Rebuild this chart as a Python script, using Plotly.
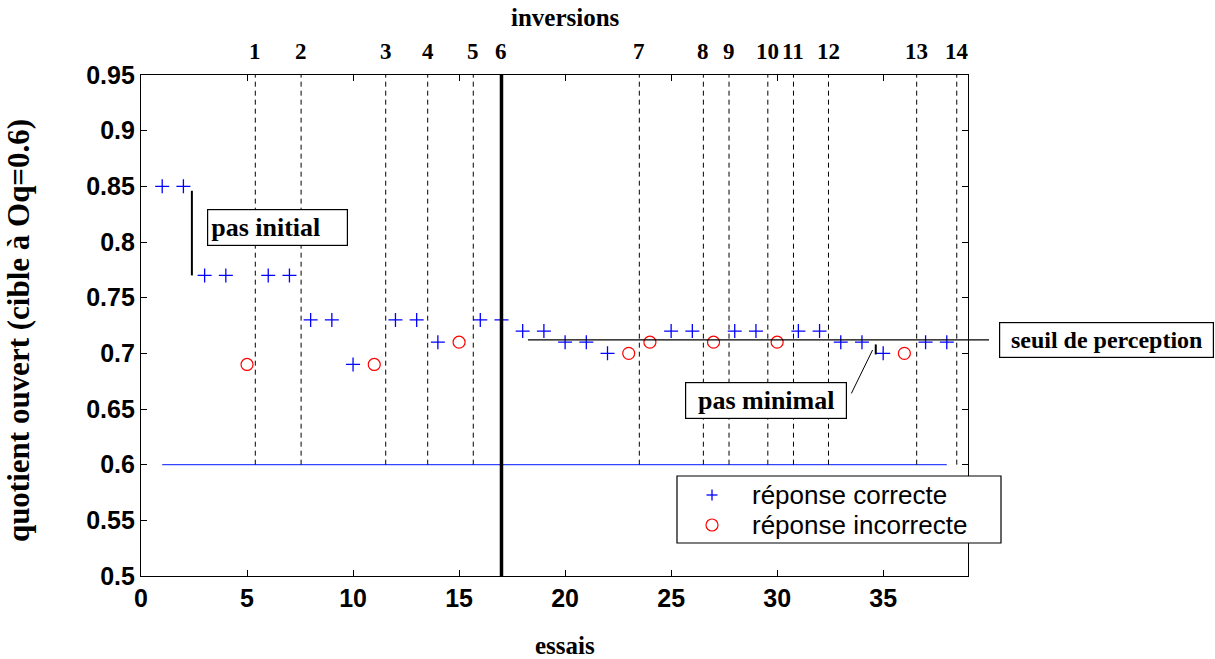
import plotly.graph_objects as go

# ---------------- data ----------------
trials = list(range(1, 39))
oq = [0.85, 0.85, 0.77, 0.77, 0.69, 0.77, 0.77, 0.73, 0.73, 0.69,
      0.69, 0.73, 0.73, 0.71, 0.71, 0.73, 0.73, 0.72, 0.72, 0.71,
      0.71, 0.70, 0.70, 0.71, 0.72, 0.72, 0.71, 0.72, 0.72, 0.71,
      0.72, 0.72, 0.71, 0.71, 0.70, 0.70, 0.71, 0.71]
correct = [1, 1, 1, 1, 0, 1, 1, 1, 1, 1,
           0, 1, 1, 1, 0, 1, 1, 1, 1, 1,
           1, 1, 0, 0, 1, 1, 0, 1, 1, 0,
           1, 1, 1, 1, 1, 0, 1, 1]
target = 0.6
seuil = 0.712
inv_pos = [5.39, 7.55, 11.54, 13.52, 15.67, 17.0, 23.5, 26.52, 27.73,
           29.56, 30.77, 32.42, 36.58, 38.47]
inv_labels = [str(i) for i in range(1, 15)]
thick_inv = 6
xtick_vals = [0, 5, 10, 15, 20, 25, 30, 35]
ytick_vals = [0.5, 0.55, 0.6, 0.65, 0.7, 0.75, 0.8, 0.85, 0.9, 0.95]
ytick_text = ["0.5", "0.55", "0.6", "0.65", "0.7", "0.75", "0.8", "0.85", "0.9", "0.95"]
legend_names = ["réponse correcte", "réponse incorrecte"]

XR = [0, 39]
YR = [0.5, 0.95]

W, H = 1215, 659
ML, MR, MT, MB = 141, 247, 75, 83
PW, PH = W - ML - MR, H - MT - MB


def px(x):
    return (x - XR[0]) / (XR[1] - XR[0])


def py(y):
    return (y - YR[0]) / (YR[1] - YR[0])


def pix_x(p):
    return (p - ML) / PW


def pix_y(p):
    return (H - MB - p) / PH


SERIF = "Liberation Serif, Times New Roman, serif"
SANS = "Liberation Sans, Arial, sans-serif"

fig = go.Figure()

fig.add_trace(go.Scatter(x=[trials[0], trials[-1]], y=[target, target], mode="lines",
                         line=dict(color="#3344ff", width=1.2), showlegend=False,
                         hoverinfo="skip"))

xc = [t for t, c in zip(trials, correct) if c]
yc = [v for v, c in zip(oq, correct) if c]
xi = [t for t, c in zip(trials, correct) if not c]
yi = [v for v, c in zip(oq, correct) if not c]

fig.add_trace(go.Scatter(x=xc, y=yc, mode="markers", name=legend_names[0], showlegend=False,
                         marker=dict(symbol="cross-thin-open", size=10, color="blue",
                                     line=dict(color="blue", width=1.3))))
fig.add_trace(go.Scatter(x=xi, y=yi, mode="markers", name=legend_names[1], showlegend=False,
                         marker=dict(symbol="circle-open", size=12, color="red",
                                     line=dict(color="red", width=1.2))))

shapes = []
annotations = []
for i, (xp, lab) in enumerate(zip(inv_pos, inv_labels), start=1):
    if i == thick_inv:
        shapes.append(dict(type="line", xref="x", yref="y", x0=xp, x1=xp,
                           y0=YR[0], y1=YR[1], line=dict(color="black", width=3.5)))
    else:
        shapes.append(dict(type="line", xref="x", yref="y", x0=xp, x1=xp,
                           y0=target, y1=YR[1],
                           line=dict(color="black", width=1, dash="5px,4px")))
    annotations.append(dict(x=xp, y=1.046, xref="x", yref="paper", text=lab,
                            showarrow=False, xanchor="center", yanchor="middle",
                            font=dict(family=SERIF, size=23, color="black", weight="bold")))

# threshold line (seuil de perception)
shapes.append(dict(type="line", xref="paper", yref="paper", x0=px(18.25), x1=1.0254,
                   y0=py(seuil), y1=py(seuil), line=dict(color="black", width=1.2)))
# pas initial marker
shapes.append(dict(type="line", xref="x", yref="y", x0=2.4, x1=2.4, y0=0.846, y1=0.77,
                   line=dict(color="black", width=2)))
# pas minimal marker
shapes.append(dict(type="line", xref="x", yref="y", x0=34.65, x1=34.65, y0=0.708, y1=0.699,
                   line=dict(color="black", width=2)))
shapes.append(dict(type="line", xref="x", yref="y", x0=34.5, x1=33.5, y0=0.703, y1=0.664,
                   line=dict(color="black", width=1)))

# manual legend box (covers the plot border like the original)
lg_l, lg_r, lg_t, lg_b = 677, 1001, 476, 543
shapes.append(dict(type="rect", xref="paper", yref="paper", layer="above",
                   x0=pix_x(lg_l), x1=pix_x(lg_r), y0=pix_y(lg_b), y1=pix_y(lg_t),
                   fillcolor="white", line=dict(color="black", width=1.2)))
sym_x = 712
row_y = [495, 525]
# plus symbol
s = 5.5
shapes.append(dict(type="line", xref="paper", yref="paper", x0=pix_x(sym_x - s), x1=pix_x(sym_x + s),
                   y0=pix_y(row_y[0]), y1=pix_y(row_y[0]), line=dict(color="blue", width=1.3)))
shapes.append(dict(type="line", xref="paper", yref="paper", x0=pix_x(sym_x), x1=pix_x(sym_x),
                   y0=pix_y(row_y[0] - s), y1=pix_y(row_y[0] + s), line=dict(color="blue", width=1.3)))
# circle symbol
r = 6
shapes.append(dict(type="circle", xref="paper", yref="paper", x0=pix_x(sym_x - r), x1=pix_x(sym_x + r),
                   y0=pix_y(row_y[1] + r), y1=pix_y(row_y[1] - r), line=dict(color="red", width=1.2)))
for name, ry in zip(legend_names, row_y):
    annotations.append(dict(x=pix_x(750), y=pix_y(ry), xref="paper", yref="paper", text=name,
                            showarrow=False, xanchor="left", yanchor="middle",
                            font=dict(family=SANS, size=26, color="black")))

annotations += [
    dict(x=0.513, y=1.114, xref="paper", yref="paper", text="inversions", showarrow=False,
         xanchor="center", yanchor="middle",
         font=dict(family=SERIF, size=25, color="black", weight="bold")),
    dict(x=0.513, y=-0.138, xref="paper", yref="paper", text="essais", showarrow=False,
         xanchor="center", yanchor="middle",
         font=dict(family=SERIF, size=25, color="black", weight="bold")),
    dict(x=-0.148, y=0.49, xref="paper", yref="paper", text="quotient ouvert (cible à Oq=0.6)",
         showarrow=False, textangle=-90, xanchor="center", yanchor="middle",
         font=dict(family=SERIF, size=31, color="black", weight="bold")),
    dict(x=6.44, y=0.8128, xref="x", yref="y", text="pas initial", showarrow=False,
         xanchor="center", yanchor="middle", bgcolor="white", bordercolor="black",
         borderwidth=1.2, borderpad=3, width=133, align="left",
         font=dict(family=SERIF, size=26, color="black", weight="bold")),
    dict(x=29.48, y=0.658, xref="x", yref="y", text="pas minimal", showarrow=False,
         xanchor="center", yanchor="middle", bgcolor="white", bordercolor="black",
         borderwidth=1.2, borderpad=3, width=154, align="center",
         font=dict(family=SERIF, size=26, color="black", weight="bold")),
    dict(x=pix_x(999), y=pix_y(339.5), xref="paper", yref="paper", text="seuil de perception",
         showarrow=False, xanchor="left", yanchor="middle", bgcolor="white",
         bordercolor="black", borderwidth=1.2, borderpad=3, width=207, height=28, align="center",
         font=dict(family=SERIF, size=24, color="black", weight="bold")),
]

fig.update_layout(
    width=W, height=H,
    margin=dict(l=ML, r=MR, t=MT, b=MB, pad=0),
    paper_bgcolor="white", plot_bgcolor="white",
    shapes=shapes, annotations=annotations,
    showlegend=False,
    xaxis=dict(range=XR, tickvals=xtick_vals, showgrid=False, zeroline=False,
               showline=True, linecolor="black", linewidth=1.2, mirror="ticks",
               ticks="inside", ticklen=6, tickcolor="black",
               tickfont=dict(family=SANS, size=25, color="black", weight="bold")),
    yaxis=dict(range=YR, tickvals=ytick_vals, ticktext=ytick_text, showgrid=False,
               zeroline=False, showline=True, linecolor="black", linewidth=1.2,
               mirror="ticks", ticks="inside", ticklen=6, tickcolor="black",
               tickfont=dict(family=SANS, size=25, color="black", weight="bold")),
)

fig.write_html("out.html", config={"displayModeBar": False},
               post_script="document.body.style.margin='0';")
